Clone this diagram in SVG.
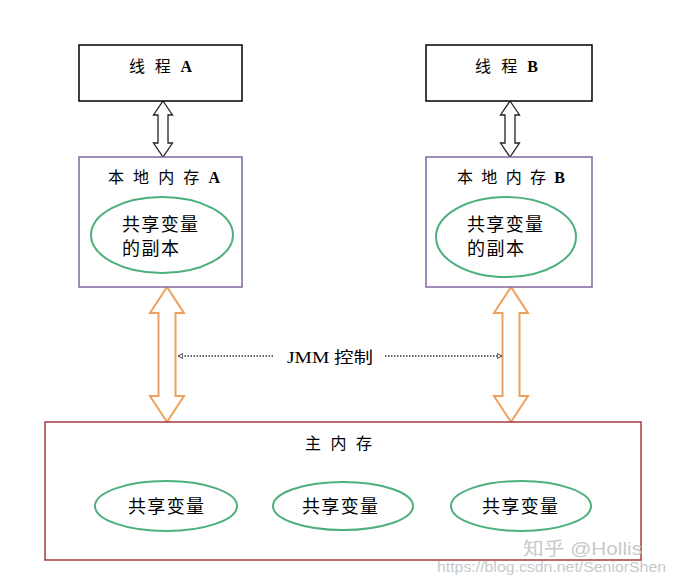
<svg xmlns="http://www.w3.org/2000/svg" width="675" height="581" viewBox="0 0 675 581">
<defs>
<style>
.thread{fill:#fff;stroke:#000;stroke-width:1.5}
.local{fill:#fff;stroke:#8064A2;stroke-width:1.5}
.main{fill:#fff;stroke:#A83A3C;stroke-width:1.5}
.var{fill:#fff;stroke:#4DAF7C;stroke-width:2}
.barrow{fill:#fff;stroke:#222;stroke-width:1.3;stroke-linejoin:miter}
.oarrow{fill:#fff;stroke:#EDA15C;stroke-width:2;stroke-linejoin:miter}
.dot{stroke:#333;stroke-width:1.5;stroke-dasharray:1.5 1.5;fill:none}
.t{font-family:"Liberation Serif","Noto Sans CJK SC",serif;font-size:16px;fill:#000}
.b{font-weight:bold}
.v{font-family:"Noto Sans CJK SC","Liberation Sans",sans-serif;font-size:18px;fill:#000}
.wm{font-family:"Liberation Sans","Noto Sans CJK SC",sans-serif;fill:#c9c9c9}
</style>
<marker id="ah" viewBox="0 0 10 10" refX="9" refY="5" markerWidth="6" markerHeight="6" orient="auto-start-reverse" markerUnits="userSpaceOnUse">
<path d="M1,1 L9,5 L1,9 Z" fill="#fff" stroke="#333" stroke-width="1.5"/>
</marker>
</defs>
<rect width="675" height="581" fill="#fff"/>

<g id="connectors">
<polygon class="barrow" points="163,101 172.5,115 168,115 168,143 172.5,143 163,157 153.5,143 158,143 158,115 153.5,115"/>
<polygon class="barrow" points="510,101 519.5,115 515,115 515,143 519.5,143 510,157 500.5,143 505,143 505,115 500.5,115"/>
<polygon class="oarrow" points="167,287 184,313 175.5,313 175.5,396 184,396 167,422 150,396 158.5,396 158.5,313 150,313"/>
<polygon class="oarrow" points="511,287 528,313 519.5,313 519.5,396 528,396 511,422 494,396 502.5,396 502.5,313 494,313"/>
<line class="dot" x1="273" y1="356" x2="178" y2="356" marker-end="url(#ah)"/>
<line class="dot" x1="385" y1="356" x2="502" y2="356" marker-end="url(#ah)"/>
<text class="t" x="330" y="363" text-anchor="middle" font-size="17" textLength="86" lengthAdjust="spacingAndGlyphs">JMM 控制</text>
</g>

<g id="threadA">
<rect class="thread" x="79" y="45" width="163" height="56"/>
<text class="t" x="129" y="72" textLength="63" lengthAdjust="spacing">线 程 <tspan class="b">A</tspan></text>
</g>
<g id="threadB">
<rect class="thread" x="426" y="45" width="166" height="56"/>
<text class="t" x="475" y="72" textLength="63" lengthAdjust="spacing">线 程 <tspan class="b">B</tspan></text>
</g>

<g id="localA">
<rect class="local" x="79" y="157" width="163" height="130"/>
<text class="t" x="108" y="183" textLength="112" lengthAdjust="spacing">本 地 内 存 <tspan class="b">A</tspan></text>
<ellipse class="var" cx="162" cy="235" rx="71" ry="38"/>
<text class="v" x="122" y="231" textLength="76" lengthAdjust="spacing">共享变量</text>
<text class="v" x="122" y="255" textLength="57" lengthAdjust="spacing">的副本</text>
</g>
<g id="localB">
<rect class="local" x="426" y="157" width="166" height="130"/>
<text class="t" x="457" y="183" textLength="108" lengthAdjust="spacing">本 地 内 存 <tspan class="b">B</tspan></text>
<ellipse class="var" cx="506" cy="237" rx="70" ry="40"/>
<text class="v" x="467" y="231" textLength="76" lengthAdjust="spacing">共享变量</text>
<text class="v" x="467" y="255" textLength="57" lengthAdjust="spacing">的副本</text>
</g>

<g id="main">
<rect class="main" x="45" y="422" width="596" height="138"/>
<text class="t" x="305" y="449" textLength="67" lengthAdjust="spacing">主 内 存</text>
<ellipse class="var" cx="166" cy="506" rx="71" ry="25"/>
<text class="v" x="166" y="513" text-anchor="middle" textLength="76" lengthAdjust="spacing">共享变量</text>
<ellipse class="var" cx="343" cy="506" rx="70" ry="24"/>
<text class="v" x="340" y="513" text-anchor="middle" textLength="76" lengthAdjust="spacing">共享变量</text>
<ellipse class="var" cx="521" cy="506" rx="70" ry="25"/>
<text class="v" x="520" y="513" text-anchor="middle" textLength="76" lengthAdjust="spacing">共享变量</text>
</g>

<g id="watermark">
<text class="wm" x="523" y="555" font-size="18" textLength="119" lengthAdjust="spacingAndGlyphs">知乎 @Hollis</text>
<text class="wm" x="437" y="572" font-size="14" textLength="229" lengthAdjust="spacingAndGlyphs">https://blog.csdn.net/SeniorShen</text>
</g>
</svg>
